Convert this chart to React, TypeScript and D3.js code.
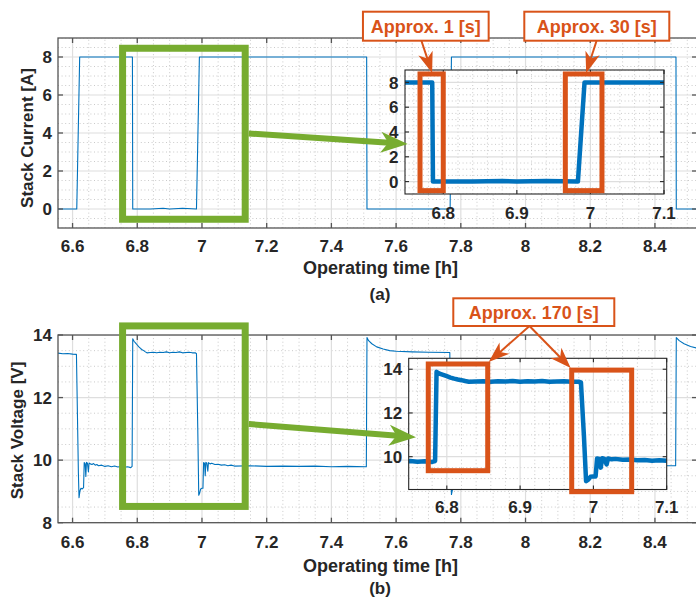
import React from 'react';
import * as d3 from 'd3';

// ---------- data ----------
const currentTime = [6.555, 6.613, 6.622, 6.785, 6.786, 6.84, 6.88, 6.9, 6.94, 6.983, 6.992, 7.2, 7.509, 7.51, 7.767, 7.771, 8.2, 8.465, 8.466, 8.53];
const currentValue = [0, 0, 8, 8, 0, 0, 0.04, 0, 0.04, 0, 8, 8, 8, 0, 0, 8, 8, 8, 0, 0];

const voltageTime = [
  6.555, 6.57, 6.585, 6.6, 6.612, 6.615, 6.618, 6.62, 6.623, 6.626, 6.63, 6.634, 6.636, 6.639, 6.641, 6.643,
  6.646, 6.649, 6.651, 6.655, 6.66, 6.665, 6.67, 6.675, 6.68, 6.69, 6.7, 6.71, 6.72, 6.73, 6.74, 6.75, 6.76,
  6.77, 6.78, 6.784, 6.786, 6.79, 6.795, 6.8, 6.805, 6.81, 6.815, 6.82, 6.825, 6.83, 6.84, 6.85, 6.86, 6.87,
  6.88, 6.89, 6.9, 6.91, 6.92, 6.93, 6.94, 6.95, 6.96, 6.97, 6.98, 6.983, 6.987, 6.99, 6.993, 6.996, 7.0,
  7.003, 7.005, 7.008, 7.01, 7.012, 7.015, 7.018, 7.02, 7.025, 7.03, 7.04, 7.05, 7.06, 7.07, 7.08, 7.09, 7.1,
  7.15, 7.2, 7.25, 7.3, 7.35, 7.4, 7.45, 7.508, 7.51, 7.515, 7.525, 7.54, 7.56, 7.58, 7.6, 7.65, 7.7, 7.766,
  7.768, 7.771, 7.775, 7.785, 7.79, 7.795, 7.82, 7.9, 8.0, 8.1, 8.2, 8.3, 8.4, 8.464, 8.466, 8.475, 8.49,
  8.51, 8.53,
];
const voltageValue = [
  13.42, 13.4, 13.41, 13.39, 13.38, 11.5, 9.6, 8.8, 9.02, 9.1, 9.08, 9.12, 9.92, 9.88, 9.48, 9.93,
  9.9, 9.62, 9.91, 9.88, 9.86, 9.89, 9.84, 9.86, 9.82, 9.84, 9.8, 9.82, 9.79, 9.81, 9.78, 9.8, 9.77,
  9.79, 9.76, 9.8, 13.88, 13.8, 13.74, 13.68, 13.62, 13.57, 13.53, 13.5, 13.46, 13.43, 13.44, 13.45, 13.43, 13.45,
  13.44, 13.46, 13.43, 13.45, 13.44, 13.46, 13.43, 13.44, 13.45, 13.43, 13.43, 13.4, 11.0, 8.88, 8.95, 9.08, 9.1,
  9.1, 9.92, 9.9, 9.5, 9.93, 9.9, 9.65, 9.92, 9.88, 9.9, 9.86, 9.87, 9.84, 9.85, 9.82, 9.84, 9.81,
  9.82, 9.8, 9.81, 9.8, 9.81, 9.79, 9.8, 9.79, 13.92, 13.82, 13.72, 13.62, 13.55, 13.5, 13.48, 13.46, 13.45, 13.44,
  11.0, 8.9, 9.1, 9.9, 9.6, 9.9, 9.86, 9.82, 9.81, 9.8, 9.81, 9.8, 9.82, 9.82, 13.92, 13.82, 13.72,
  13.63, 13.58,
];

const mainTicksX = [6.6, 6.8, 7, 7.2, 7.4, 7.6, 7.8, 8, 8.2, 8.4];
const mainTickLabelsX = ['6.6', '6.8', '7', '7.2', '7.4', '7.6', '7.8', '8', '8.2', '8.4'];
const currentTicks = [0, 2, 4, 6, 8];
const voltageTicks = [8, 10, 12, 14];
const insetTicksX = [6.8, 6.9, 7, 7.1];
const insetTickLabelsX = ['6.8', '6.9', '7', '7.1'];
const insetCurrentTicks = [0, 2, 4, 6, 8];
const insetVoltageTicks = [10, 12, 14];

const xTitle = 'Operating time [h]';
const currentTitle = 'Stack Current [A]';
const voltageTitle = 'Stack Voltage [V]';
const panelLabels = ['(a)', '(b)'];
const noteLabels = ['Approx. 1 [s]', 'Approx. 30 [s]', 'Approx. 170 [s]'];

// highlighted regions in data units: [t0, t1, v0, v1]
const greenRegionCurrent = [6.7546, 7.1336, -0.54, 8.46];
const greenRegionVoltage = [6.7546, 7.1336, 8.52, 14.29];
const orangeRegionsCurrent = [[6.7684, 6.8, -0.73, 8.68], [6.9659, 7.0157, -0.73, 8.68]];
const orangeRegionsVoltage = [[6.7747, 6.8558, 9.36, 14.24], [6.9704, 7.0522, 8.4, 13.96]];

// ---------- style ----------
const FONT = "'Liberation Sans', Arial, Helvetica, sans-serif";
const AX = '#262626';
const BLUE = '#0072BD';
const ORANGE = '#D95319';
const GREEN = '#77AC30';
const MAJ_GRID = '#dedede';
const MIN_GRID = '#c4c4c4';

type Scale = d3.ScaleLinear<number, number>;

function minorSteps(domain: number[], step: number, majors: number[]) {
  const out: number[] = [];
  const start = Math.ceil(domain[0] / step - 1e-9);
  const end = Math.floor(domain[1] / step + 1e-9);
  for (let k = start; k <= end; k++) {
    const v = +(k * step).toFixed(6);
    if (!majors.some((m) => Math.abs(m - v) < 1e-6)) out.push(v);
  }
  return out;
}

interface AxesProps {
  id: string;
  x: Scale;
  y: Scale;
  xTicks: number[];
  xLabels: string[];
  yTicks: number[];
  xMinor: number;
  yMinor: number;
  times: number[];
  values: number[];
  lineWidth: number;
  tickLen: number;
  xLabelDy: number;
  yLabelGap: number;
  whiteBg?: boolean;
  boxColor: string;
  boxWidth: number;
}

function Axes(p: AxesProps) {
  const [x0, x1] = p.x.range();
  const [y0, y1] = p.y.range(); // y0 bottom, y1 top
  const xMin = minorSteps(p.x.domain(), p.xMinor, p.xTicks);
  const yMin = minorSteps(p.y.domain(), p.yMinor, p.yTicks);
  const line = d3
    .line<number>()
    .x((_, i) => p.x(p.times[i]))
    .y((d) => p.y(d));
  return (
    <g>
      <defs>
        <clipPath id={p.id}>
          <rect x={x0} y={y1} width={x1 - x0} height={y0 - y1} />
        </clipPath>
      </defs>
      {p.whiteBg && <rect x={x0} y={y1} width={x1 - x0} height={y0 - y1} fill="#fff" />}
      <g clipPath={`url(#${p.id})`}>
        {xMin.map((v) => (
          <line key={'xm' + v} x1={p.x(v)} x2={p.x(v)} y1={y0} y2={y1} stroke={MIN_GRID} strokeWidth={0.9} strokeDasharray="1 2.6" />
        ))}
        {yMin.map((v) => (
          <line key={'ym' + v} y1={p.y(v)} y2={p.y(v)} x1={x0} x2={x1} stroke={MIN_GRID} strokeWidth={0.9} strokeDasharray="1 2.6" />
        ))}
        {p.xTicks.map((v) => (
          <line key={'xg' + v} x1={p.x(v)} x2={p.x(v)} y1={y0} y2={y1} stroke={MAJ_GRID} strokeWidth={1.2} />
        ))}
        {p.yTicks.map((v) => (
          <line key={'yg' + v} y1={p.y(v)} y2={p.y(v)} x1={x0} x2={x1} stroke={MAJ_GRID} strokeWidth={1.2} />
        ))}
        <path d={line(p.values) || ''} fill="none" stroke={BLUE} strokeWidth={p.lineWidth} strokeLinejoin="round" />
      </g>
      <rect x={x0} y={y1} width={x1 - x0} height={y0 - y1} fill="none" stroke={p.boxColor} strokeWidth={p.boxWidth} />
      {p.xTicks.map((v) => (
        <g key={'xt' + v}>
          <line x1={p.x(v)} x2={p.x(v)} y1={y0} y2={y0 - p.tickLen} stroke={p.boxColor} strokeWidth={p.boxWidth} />
          <line x1={p.x(v)} x2={p.x(v)} y1={y1} y2={y1 + p.tickLen} stroke={p.boxColor} strokeWidth={p.boxWidth} />
        </g>
      ))}
      {p.yTicks.map((v) => (
        <g key={'yt' + v}>
          <line y1={p.y(v)} y2={p.y(v)} x1={x0} x2={x0 + p.tickLen} stroke={p.boxColor} strokeWidth={p.boxWidth} />
          <line y1={p.y(v)} y2={p.y(v)} x1={x1} x2={x1 - p.tickLen} stroke={p.boxColor} strokeWidth={p.boxWidth} />
        </g>
      ))}
      {p.xTicks.map((v, i) => (
        <text key={'xl' + v} x={p.x(v)} y={y0 + p.xLabelDy} textAnchor="middle" fontFamily={FONT} fontWeight="bold" fontSize={17} fill={AX}>
          {p.xLabels[i]}
        </text>
      ))}
      {p.yTicks.map((v) => (
        <text key={'yl' + v} x={x0 - p.yLabelGap} y={p.y(v)} dy="0.36em" textAnchor="end" fontFamily={FONT} fontWeight="bold" fontSize={17} fill={AX}>
          {String(v)}
        </text>
      ))}
    </g>
  );
}

function Arrow({ x1, y1, x2, y2, color, width, len, half }: { x1: number; y1: number; x2: number; y2: number; color: string; width: number; len: number; half: number }) {
  const dx = x2 - x1;
  const dy = y2 - y1;
  const d = Math.hypot(dx, dy);
  const ux = dx / d;
  const uy = dy / d;
  const px = -uy;
  const py = ux;
  const bx = x2 - ux * len;
  const by = y2 - uy * len;
  const nx = x2 - ux * len * 0.72;
  const ny = y2 - uy * len * 0.72;
  const head = `M${x2},${y2} L${bx + px * half},${by + py * half} L${nx},${ny} L${bx - px * half},${by - py * half} Z`;
  return (
    <g>
      <line x1={x1} y1={y1} x2={nx + ux} y2={ny + uy} stroke={color} strokeWidth={width} />
      <path d={head} fill={color} />
    </g>
  );
}

function Region({ r, x, y, color, width }: { r: number[]; x: Scale; y: Scale; color: string; width: number }) {
  return (
    <rect x={x(r[0])} y={y(r[3])} width={x(r[1]) - x(r[0])} height={y(r[2]) - y(r[3])} fill="none" stroke={color} strokeWidth={width} />
  );
}

function NoteBox({ cx, top, w, h, text }: { cx: number; top: number; w: number; h: number; text: string }) {
  return (
    <g>
      <rect x={cx - w / 2} y={top} width={w} height={h} fill="#fff" stroke={ORANGE} strokeWidth={2} />
      <text x={cx} y={top + h / 2} dy="0.36em" textAnchor="middle" fontFamily={FONT} fontWeight="bold" fontSize={18} fill={ORANGE}>
        {text}
      </text>
    </g>
  );
}

export default function App() {
  // main panels
  const xMainTop = d3.scaleLinear().domain([6.555, 8.53]).range([58, 697]);
  const yCur = d3.scaleLinear().domain([-1, 9]).range([228, 38]);
  const xMainBot = d3.scaleLinear().domain([6.555, 8.53]).range([58, 697]);
  const yVol = d3.scaleLinear().domain([8, 14]).range([522.7, 335]);
  // insets
  const xInTop = d3.scaleLinear().domain([6.748, 7.1]).range([405, 664]);
  const yInCur = d3.scaleLinear().domain([-1, 9]).range([194, 70]);
  const xInBot = d3.scaleLinear().domain([6.748, 7.1]).range([408.7, 666.7]);
  const yInVol = d3.scaleLinear().domain([8.5, 14.5]).range([489.5, 358.3]);

  const gTop = greenRegionCurrent;
  const gBot = greenRegionVoltage;
  const gTopRight = xMainTop(gTop[1]) + 3.5;
  const gBotRight = xMainBot(gBot[1]) + 3.5;

  const oc = orangeRegionsCurrent;
  const ov = orangeRegionsVoltage;

  return (
    <svg width={696} height={600} viewBox="0 0 696 600" style={{ position: 'absolute', left: 0, top: 0, background: '#fff' }}>
      <rect x={0} y={0} width={696} height={600} fill="#fff" />
      {/* ---------- panel (a) ---------- */}
      <Axes id="clipA" x={xMainTop} y={yCur} xTicks={mainTicksX} xLabels={mainTickLabelsX} yTicks={currentTicks}
        xMinor={0.05} yMinor={0.5} times={currentTime} values={currentValue} lineWidth={1.1} tickLen={5}
        xLabelDy={24} yLabelGap={6} boxColor="#555" boxWidth={1.3} />
      <text transform="translate(33,138) rotate(-90)" textAnchor="middle" fontFamily={FONT} fontWeight="bold" fontSize={17} fill={AX}>
        {currentTitle}
      </text>
      <text x={380.5} y={274} textAnchor="middle" fontFamily={FONT} fontWeight="bold" fontSize={18} fill={AX}>{xTitle}</text>
      <text x={380} y={300} textAnchor="middle" fontFamily={FONT} fontWeight="bold" fontSize={17} fill={AX}>{panelLabels[0]}</text>
      <Region r={gTop} x={xMainTop} y={yCur} color={GREEN} width={7} />

      <Axes id="clipAi" x={xInTop} y={yInCur} xTicks={insetTicksX} xLabels={insetTickLabelsX} yTicks={insetCurrentTicks}
        xMinor={0.02} yMinor={0.5} times={currentTime} values={currentValue} lineWidth={4.5} tickLen={4}
        xLabelDy={25} yLabelGap={6.5} whiteBg boxColor={AX} boxWidth={1.1} />
      {oc.map((r, i) => (
        <Region key={'oc' + i} r={r} x={xInTop} y={yInCur} color={ORANGE} width={5} />
      ))}
      <Arrow x1={gTopRight} y1={133.5} x2={407.7} y2={144} color={GREEN} width={6} len={27} half={10.5} />

      <NoteBox cx={425.8} top={11.7} w={125.7} h={29} text={noteLabels[0]} />
      <NoteBox cx={596.8} top={11.7} w={145} h={29} text={noteLabels[1]} />
      <Arrow x1={421.5} y1={41} x2={(xInTop(oc[0][0]) + xInTop(oc[0][1])) / 2 + 0.5} y2={yInCur(oc[0][3]) - 1} color={ORANGE} width={2} len={21} half={7.5} />
      <Arrow x1={596.5} y1={41} x2={(xInTop(oc[1][0]) + xInTop(oc[1][1])) / 2 + 2.5} y2={yInCur(oc[1][3]) - 1} color={ORANGE} width={2} len={21} half={7.5} />

      {/* ---------- panel (b) ---------- */}
      <Axes id="clipB" x={xMainBot} y={yVol} xTicks={mainTicksX} xLabels={mainTickLabelsX} yTicks={voltageTicks}
        xMinor={0.05} yMinor={0.5} times={voltageTime} values={voltageValue} lineWidth={1.1} tickLen={5}
        xLabelDy={25} yLabelGap={6} boxColor="#555" boxWidth={1.3} />
      <text transform="translate(23,430.5) rotate(-90)" textAnchor="middle" fontFamily={FONT} fontWeight="bold" fontSize={17} fill={AX}>
        {voltageTitle}
      </text>
      <text x={380.5} y={572} textAnchor="middle" fontFamily={FONT} fontWeight="bold" fontSize={18} fill={AX}>{xTitle}</text>
      <text x={380} y={594} textAnchor="middle" fontFamily={FONT} fontWeight="bold" fontSize={17} fill={AX}>{panelLabels[1]}</text>
      <Region r={gBot} x={xMainBot} y={yVol} color={GREEN} width={7} />

      <Axes id="clipBi" x={xInBot} y={yInVol} xTicks={insetTicksX} xLabels={insetTickLabelsX} yTicks={insetVoltageTicks}
        xMinor={0.02} yMinor={0.5} times={voltageTime} values={voltageValue} lineWidth={4.5} tickLen={4}
        xLabelDy={23} yLabelGap={6.5} whiteBg boxColor={AX} boxWidth={1.1} />
      {ov.map((r, i) => (
        <Region key={'ov' + i} r={r} x={xInBot} y={yInVol} color={ORANGE} width={5} />
      ))}
      <Arrow x1={gBotRight} y1={424} x2={416} y2={437.3} color={GREEN} width={6} len={27} half={10.5} />

      <NoteBox cx={533.8} top={298.3} w={161} h={27.7} text={noteLabels[2]} />
      <Arrow x1={529.5} y1={326} x2={xInBot(ov[0][1]) + 1} y2={yInVol(ov[0][3]) - 2} color={ORANGE} width={2} len={21} half={7.5} />
      <Arrow x1={529.5} y1={326} x2={xInBot(ov[1][0]) - 1} y2={yInVol(ov[1][3]) - 2} color={ORANGE} width={2} len={21} half={7.5} />
    </svg>
  );
}
